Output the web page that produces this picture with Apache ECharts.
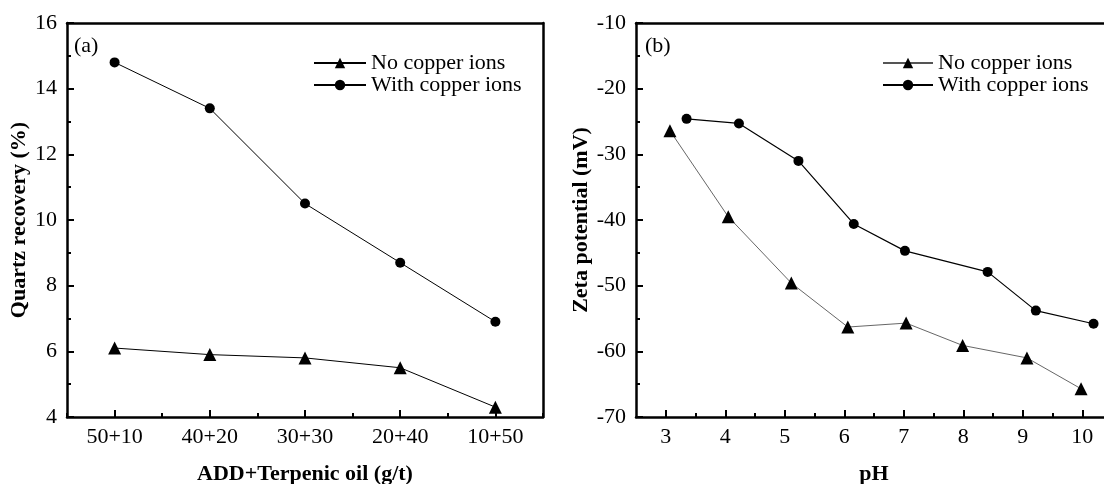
<!DOCTYPE html>
<html>
<head>
<meta charset="utf-8">
<script src="https://cdn.jsdelivr.net/npm/echarts@6/dist/echarts.min.js"></script>
<style>html,body{margin:0;padding:0;background:#fff}#c{width:1104px;height:484px}</style>
</head>
<body>
<div id="c"></div>
<script>
// Panel (a)
const dosages = ['50+10', '40+20', '30+30', '20+40', '10+50'];
const recoveryNoCu = [6.1, 5.9, 5.8, 5.5, 4.3];
const recoveryWithCu = [14.8, 13.4, 10.5, 8.7, 6.9];
// Panel (b)
const phNoCu = [3.07, 4.05, 5.11, 6.06, 7.04, 7.99, 9.07, 9.98];
const zetaNoCu = [-26.4, -39.5, -49.6, -56.3, -55.7, -59.1, -61.0, -65.7];
const phWithCu = [3.35, 4.23, 5.23, 6.16, 7.02, 8.41, 9.22, 10.19];
const zetaWithCu = [-24.6, -25.3, -31.0, -40.6, -44.7, -47.9, -53.8, -55.8];
const phTicks = [3, 4, 5, 6, 7, 8, 9, 10];
const phMinorTicks = [3.5, 4.5, 5.5, 6.5, 7.5, 8.5, 9.5];
const seriesNames = ['No copper ions', 'With copper ions'];

const FONT = "'Liberation Serif', 'Times New Roman', serif";
const chart = echarts.init(document.getElementById('c'), null, {renderer: 'canvas'});

const lineSt = () => ({show: true, onZero: false, lineStyle: {color: '#000', width: 2.5}});
const labelStyle = () => ({color: '#000', fontFamily: FONT, fontSize: 22});
const nameStyle = () => ({color: '#000', fontFamily: FONT, fontSize: 22, fontWeight: 'bold'});
const tick = (len, extra) => Object.assign({show: true, inside: true, length: len, lineStyle: {color: '#000', width: 2}}, extra || {});
const noLabel = () => ({show: false});
const noSplit = () => ({show: false});

const pairs = (xs, ys) => xs.map((x, i) => [x, ys[i]]);

chart.setOption({
  animation: false,
  backgroundColor: '#fff',
  grid: [
    {left: 67, top: 23, width: 476, height: 394, outerBoundsMode: 'none'},
    {left: 636, top: 23, width: 476, height: 394, outerBoundsMode: 'none'}
  ],
  legend: [
    {
      data: seriesNames.map(n => 'a:' + n), orient: 'vertical', left: 313, top: 52, padding: 0,
      itemWidth: 52, itemHeight: 13, itemGap: 0,
      textStyle: {color: '#000', fontFamily: FONT, fontSize: 22, lineHeight: 22},
      formatter: n => n.slice(2)
    },
    {
      data: seriesNames.map(n => 'b:' + n), orient: 'vertical', left: 882, top: 52, padding: 0,
      itemWidth: 50, itemHeight: 13, itemGap: 0,
      textStyle: {color: '#000', fontFamily: FONT, fontSize: 22, lineHeight: 22},
      formatter: n => n.slice(2)
    }
  ],
  xAxis: [
    { // 0: main category axis (a)
      type: 'category', gridIndex: 0, data: dosages, boundaryGap: true, position: 'bottom',
      axisLine: lineSt(), axisTick: tick(7, {alignWithLabel: true}),
      axisLabel: Object.assign({margin: 9}, labelStyle()), splitLine: noSplit(),
      name: 'ADD+Terpenic oil (g/t)', nameLocation: 'middle', nameGap: 46, nameTextStyle: nameStyle()
    },
    { // 1: minor ticks at category boundaries (a)
      type: 'category', gridIndex: 0, data: dosages, boundaryGap: true, position: 'bottom',
      axisLine: {show: false}, axisLabel: noLabel(), splitLine: noSplit(),
      axisTick: tick(4, {alignWithLabel: false})
    },
    { // 2: top frame (a)
      type: 'category', gridIndex: 0, data: dosages, position: 'top',
      axisLine: lineSt(), axisTick: {show: false}, axisLabel: noLabel(), splitLine: noSplit()
    },
    { // 3: pH axis (b)
      type: 'value', gridIndex: 1, min: 2.5, max: 10.5, position: 'bottom',
      axisLine: lineSt(), axisTick: tick(7, {customValues: phTicks}),
      axisLabel: Object.assign({margin: 9, customValues: phTicks}, labelStyle()), splitLine: noSplit(),
      name: 'pH', nameLocation: 'middle', nameGap: 46, nameTextStyle: nameStyle()
    },
    { // 4: pH minor ticks (b)
      type: 'value', gridIndex: 1, min: 2.5, max: 10.5, position: 'bottom',
      axisLine: {show: false}, axisLabel: {show: false, customValues: phMinorTicks}, splitLine: noSplit(),
      axisTick: tick(4, {customValues: phMinorTicks})
    },
    { // 5: top frame (b)
      type: 'value', gridIndex: 1, min: 2.5, max: 10.5, position: 'top',
      axisLine: lineSt(), axisTick: {show: false}, axisLabel: noLabel(), splitLine: noSplit()
    }
  ],
  yAxis: [
    { // 0: recovery
      type: 'value', gridIndex: 0, min: 4, max: 16, interval: 2, position: 'left',
      axisLine: lineSt(), axisTick: tick(7),
      minorTick: {show: true, splitNumber: 2, length: 4, lineStyle: {color: '#000', width: 2}},
      axisLabel: Object.assign({margin: 10}, labelStyle()), splitLine: noSplit(), minorSplitLine: noSplit(),
      name: 'Quartz recovery (%)', nameLocation: 'middle', nameGap: 37, nameTextStyle: nameStyle()
    },
    { // 1: right frame (a)
      type: 'value', gridIndex: 0, min: 4, max: 16, interval: 2, position: 'right',
      axisLine: lineSt(), axisTick: {show: false}, axisLabel: noLabel(), splitLine: noSplit()
    },
    { // 2: zeta
      type: 'value', gridIndex: 1, min: -70, max: -10, interval: 10, position: 'left',
      axisLine: lineSt(), axisTick: tick(7),
      minorTick: {show: true, splitNumber: 2, length: 4, lineStyle: {color: '#000', width: 2}},
      axisLabel: Object.assign({margin: 10}, labelStyle()), splitLine: noSplit(), minorSplitLine: noSplit(),
      name: 'Zeta potential (mV)', nameLocation: 'middle', nameGap: 40, nameTextStyle: nameStyle()
    },
    { // 3: right frame (b)
      type: 'value', gridIndex: 1, min: -70, max: -10, interval: 10, position: 'right',
      axisLine: lineSt(), axisTick: {show: false}, axisLabel: noLabel(), splitLine: noSplit()
    }
  ],
  graphic: [
    {type: 'text', left: 74, top: 35, style: {text: '(a)', fontFamily: FONT, fontSize: 22, fill: '#000'}},
    {type: 'text', left: 645, top: 35, style: {text: '(b)', fontFamily: FONT, fontSize: 22, fill: '#000'}}
  ],
  series: [
    {
      name: 'a:' + seriesNames[0], type: 'line', xAxisIndex: 0, yAxisIndex: 0, data: recoveryNoCu,
      symbol: 'triangle', symbolSize: 13, itemStyle: {color: '#000'}, lineStyle: {color: '#000', width: 1}
    },
    {
      name: 'a:' + seriesNames[1], type: 'line', xAxisIndex: 0, yAxisIndex: 0, data: recoveryWithCu,
      symbol: 'circle', symbolSize: 10, itemStyle: {color: '#000'}, lineStyle: {color: '#000', width: 1}
    },
    {
      name: 'b:' + seriesNames[0], type: 'line', xAxisIndex: 3, yAxisIndex: 2, data: pairs(phNoCu, zetaNoCu),
      symbol: 'triangle', symbolSize: 13, itemStyle: {color: '#000'}, lineStyle: {color: '#555', width: 0.9}
    },
    {
      name: 'b:' + seriesNames[1], type: 'line', xAxisIndex: 3, yAxisIndex: 2, data: pairs(phWithCu, zetaWithCu),
      symbol: 'circle', symbolSize: 10, itemStyle: {color: '#000'}, lineStyle: {color: '#000', width: 1.2}
    }
  ]
});
</script>
</body>
</html>
